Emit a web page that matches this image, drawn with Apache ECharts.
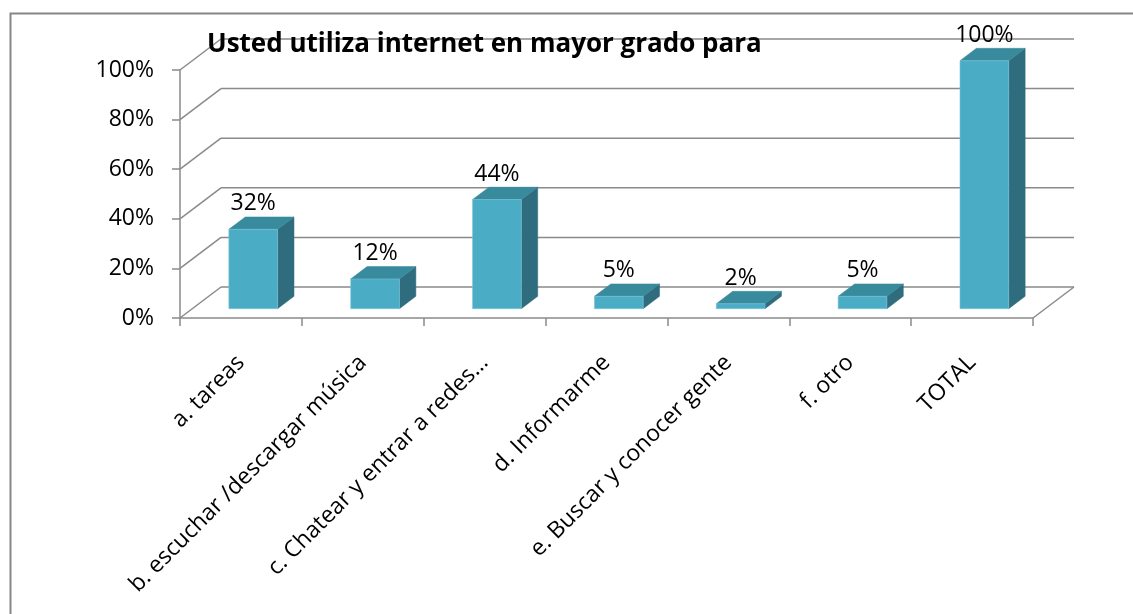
<!DOCTYPE html>
<html>
<head>
<meta charset="utf-8">
<script src="https://cdn.jsdelivr.net/npm/echarts@6/dist/echarts.min.js"></script>
<style>
html,body{margin:0;padding:0;background:#fff;}
#chart{width:1133px;height:614px;}
</style>
</head>
<body>
<div id="chart"></div>
<script>
const titleText = 'Usted utiliza internet en mayor grado para';
const categories = ['a. tareas', 'b. escuchar /descargar música', 'c. Chatear y entrar a redes…', 'd. Informarme', 'e. Buscar y conocer gente', 'f. otro', 'TOTAL'];
const values = [0.32, 0.12, 0.44, 0.05, 0.02, 0.05, 1.00];
const yTicks = [0, 0.2, 0.4, 0.6, 0.8, 1.0];

const DX = 41, DY = -31;          // depth vector of the 3D box
const FONT = 'Open Sans';
const GRID_COLOR = '#8a8a8a';

const chart = echarts.init(document.getElementById('chart'), null, {renderer: 'canvas'});

function pct(v) { return Math.round(v * 100) + '%'; }

const option = {
  animation: false,
  backgroundColor: '#fff',
  title: {
    text: titleText,
    left: 207, top: 32, padding: 0,
    textStyle: {fontFamily: FONT, fontWeight: 'bold', fontSize: 26, color: '#000'}
  },
  graphic: [{
    type: 'rect', left: 8, top: 11, silent: true, z: -10,
    shape: {width: 1200, height: 700},
    style: {fill: 'none', stroke: '#868686', lineWidth: 2}
  }],
  grid: {left: 180, top: 70, width: 853, height: 248},
  xAxis: {
    type: 'category',
    data: categories,
    boundaryGap: true,
    axisLine: {show: true, lineStyle: {color: GRID_COLOR, width: 1.5}},
    axisTick: {show: true, length: 8, interval: 0, lineStyle: {color: GRID_COLOR, width: 1.5}},
    axisLabel: {interval: 0, rotate: 45, margin: 41, fontFamily: FONT, fontSize: 23, color: '#000'},
    splitLine: {show: false}
  },
  yAxis: {
    type: 'value', min: 0, max: 1, interval: 0.2,
    axisLine: {show: true, lineStyle: {color: GRID_COLOR, width: 1.5}},
    axisTick: {show: true, length: 8, lineStyle: {color: GRID_COLOR, width: 1.5}},
    axisLabel: {margin: 26, fontFamily: FONT, fontSize: 23, color: '#000', formatter: pct},
    splitLine: {show: false}
  },
  series: [
    {
      type: 'custom',
      z: 1,
      silent: true,
      clip: false,
      data: yTicks.map(v => [0, v]),
      renderItem: function (params, api) {
        const cs = params.coordSys;
        const p = api.coord([0, api.value(1)]);
        const left = cs.x, right = cs.x + cs.width;
        const y = p[1];
        const children = [
          {type: 'line', shape: {x1: left, y1: y, x2: left + DX, y2: y + DY},
           style: {stroke: GRID_COLOR, lineWidth: 1.5}},
          {type: 'line', shape: {x1: left + DX, y1: y + DY, x2: right + DX, y2: y + DY},
           style: {stroke: GRID_COLOR, lineWidth: 1.5}}
        ];
        if (api.value(1) === 0) {
          children.push({type: 'line', shape: {x1: right, y1: y, x2: right + DX, y2: y + DY},
            style: {stroke: GRID_COLOR, lineWidth: 1.5}});
        }
        return {type: 'group', children: children};
      }
    },
    {
      type: 'custom',
      z: 5,
      silent: true,
      clip: false,
      data: values.map((v, i) => [i, v]),
      renderItem: function (params, api) {
        const i = api.value(0), v = api.value(1);
        const c0 = api.coord([i, 0]);
        const c1 = api.coord([i, v]);
        const band = api.size([1, 0])[0];
        const w = band * 0.4;
        const fx = DX * 0.3, fy = DY * 0.3;
        const bx = DX * 0.4, by = DY * 0.4;
        const xl = c0[0] - w / 2 + fx, xr = xl + w;
        const yb = c0[1] + fy, yt = c1[1] + fy;
        return {
          type: 'group',
          children: [
            {type: 'polygon', shape: {points: [[xr, yt], [xr, yb], [xr + bx, yb + by], [xr + bx, yt + by]]},
             style: {fill: '#2f6d7e', stroke: '#2f6d7e', lineWidth: 0.5}},
            {type: 'polygon', shape: {points: [[xl, yt], [xr, yt], [xr + bx, yt + by], [xl + bx, yt + by]]},
             style: {fill: '#388a9d', stroke: '#388a9d', lineWidth: 0.5}},
            {type: 'rect', shape: {x: xl, y: yt, width: w, height: yb - yt},
             style: {fill: '#4bacc6', stroke: '#7cc4d6', lineWidth: 0.6}},
            {type: 'text', x: (xl + xr) / 2, y: yt + by - 13,
             style: {text: pct(v), fontFamily: FONT, fontSize: 23, fill: '#000',
                     align: 'center', verticalAlign: 'middle'}}
          ]
        };
      }
    }
  ]
};
chart.setOption(option);
</script>
</body>
</html>
